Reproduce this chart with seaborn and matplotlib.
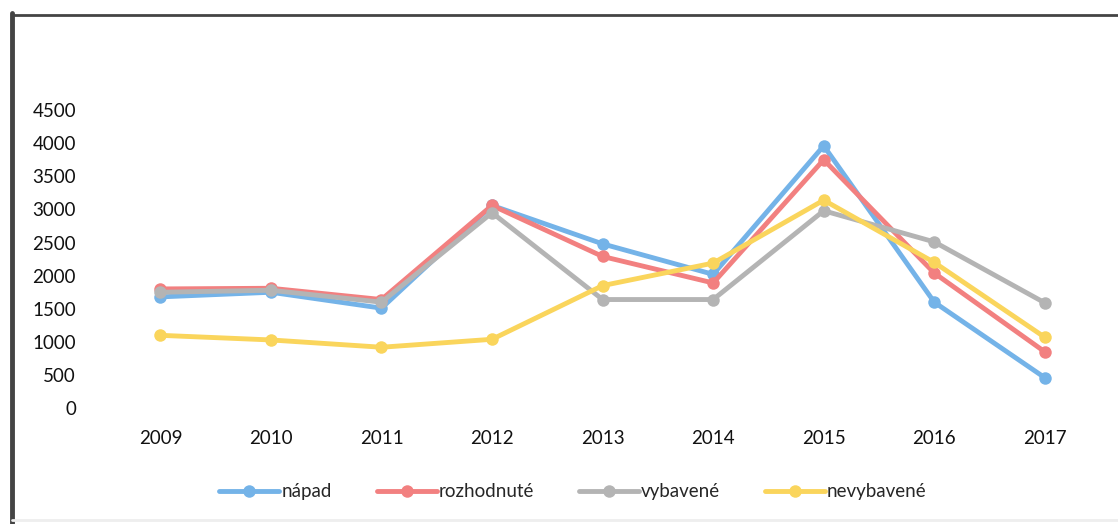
import pandas as pd
import matplotlib.pyplot as plt
import seaborn as sns
from matplotlib.lines import Line2D

# Data
years = ["2009", "2010", "2011", "2012", "2013", "2014", "2015", "2016", "2017"]
napad = [1680, 1750, 1510, 3060, 2480, 2020, 3960, 1600, 460]
rozhodnute = [1800, 1810, 1640, 3060, 2290, 1890, 3750, 2040, 850]
vybavene = [1750, 1780, 1600, 2950, 1640, 1640, 2980, 2510, 1590]
nevybavene = [1100, 1030, 920, 1040, 1850, 2190, 3140, 2200, 1070]

series_names = ["nápad", "rozhodnuté", "vybavené", "nevybavené"]
colors = ["#74b3e8", "#f28080", "#b4b4b4", "#fad55c"]

df = pd.DataFrame({"rok": years, "nápad": napad, "rozhodnuté": rozhodnute,
                   "vybavené": vybavene, "nevybavené": nevybavene})
long = df.melt(id_vars="rok", var_name="typ", value_name="pocet")

sns.set_style("white")
plt.rcParams["font.family"] = ["Lato", "DejaVu Sans"]

fig = plt.figure(figsize=(11.18, 5.24), dpi=100)
ax = fig.add_axes([0.094, 0.221, 0.89, 0.569])

sns.lineplot(
    data=long, x="rok", y="pocet", hue="typ", hue_order=series_names,
    palette=colors, marker="o", markersize=9, markeredgewidth=0,
    linewidth=3.5, sort=False, ax=ax
)

ax.set_xlim(-0.5, 8.5)
ax.set_ylim(0, 4500)
ax.set_yticks(range(0, 4501, 500))
ax.set_xlabel("")
ax.set_ylabel("")
for s in ax.spines.values():
    s.set_visible(False)
ax.tick_params(axis="y", length=0, pad=21, labelsize=13.5, labelcolor="#111111")
ax.tick_params(axis="x", length=0, pad=16, labelsize=13.5, labelcolor="#111111")

leg = ax.legend(loc="center", bbox_to_anchor=(0.47, -0.28), ncol=4,
                frameon=False, fontsize=13.5, handlelength=3.2, columnspacing=2.4,
                handletextpad=0.1)

# scanned frame: dark left and top edges
fig.add_artist(Line2D([0.011, 0.011], [0.0, 0.975], transform=fig.transFigure,
                      color="#444444", linewidth=3.5))
fig.add_artist(Line2D([0.011, 1.0], [0.971, 0.971], transform=fig.transFigure,
                      color="#444444", linewidth=2))
fig.add_artist(Line2D([0.011, 1.0], [0.008, 0.008], transform=fig.transFigure,
                      color="#eeeeee", linewidth=2))

plt.savefig("out.png", dpi=100)
